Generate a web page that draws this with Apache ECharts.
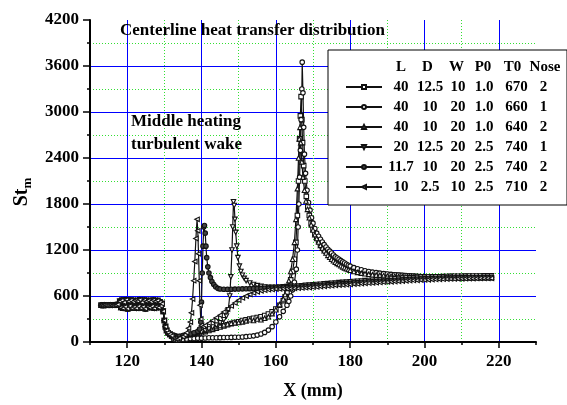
<!DOCTYPE html>
<html>
<head>
<meta charset="utf-8">
<script src="https://cdn.jsdelivr.net/npm/echarts@6/dist/echarts.min.js"></script>
<style>html,body{margin:0;padding:0;background:#fff}#main{width:567px;height:405px}</style>
</head>
<body>
<div id="main"></div>
<script>
// x ticks / labels
const xMajorTicks = [120, 140, 160, 180, 200, 220];

// legend table
const legendHeader = ['L', 'D', 'W', 'P0', 'T0', 'Nose'];
const legendRows = [
    ['40', '12.5', '10', '1.0', '670', '2'],
    ['40', '10', '20', '1.0', '660', '1'],
    ['40', '10', '20', '1.0', '640', '2'],
    ['20', '12.5', '20', '2.5', '740', '1'],
    ['11.7', '10', '20', '2.5', '740', '2'],
    ['10', '2.5', '10', '2.5', '710', '2']
];

// upstream part, same for every run (x mm, St)
const upstream = [
    [113.0, 480], [113.5, 478], [114.0, 482], [114.5, 479], [115.0, 481], [115.5, 483], [116.0, 480], [116.5, 484],
    [117.0, 482], [117.5, 490], [118.0, 530], [118.3, 450], [118.6, 545], [118.9, 440], [119.2, 520], [119.5, 460],
    [119.8, 550], [120.1, 435], [120.4, 530], [120.7, 470], [121.0, 545], [121.3, 445], [121.6, 525], [121.9, 455],
    [122.2, 540], [122.5, 440], [122.8, 535], [123.1, 465], [123.4, 550], [123.7, 445], [124.0, 520], [124.3, 460],
    [124.6, 545], [124.9, 435], [125.2, 530], [125.5, 455], [125.8, 540], [126.1, 450], [126.4, 525], [126.7, 465],
    [127.0, 545], [127.3, 440], [127.6, 530], [127.9, 460], [128.2, 540], [128.5, 450], [128.8, 520], [129.1, 470],
    [129.4, 500], [129.7, 400], [130.0, 280], [130.3, 200], [130.6, 150], [131.0, 120], [131.5, 100], [132.0, 80]
];

// L=40 D=12.5
const sq40 = [
    [132.5, 60], [133, 50], [133.5, 45], [134, 55], [134.5, 60], [135, 70], [136, 80], [137, 90], [138, 100], [139, 110],
    [140, 120], [141, 135], [142, 150], [143, 165], [144, 180], [145, 195], [146, 210], [147, 225], [148, 240], [149, 255],
    [150, 265], [151, 280], [152, 290], [153, 300], [154, 310], [155, 320], [156, 330], [157, 345], [158, 365], [159, 395],
    [160, 430], [161, 480], [162, 540], [162.5, 590], [163, 650], [163.5, 720], [164, 810], [164.5, 920], [165, 1080],
    [165.4, 1300], [165.8, 1650], [166.1, 2100], [166.4, 2650], [166.6, 2950], [166.8, 3200], [167.0, 2900], [167.2, 2600],
    [167.5, 2300], [167.8, 2100], [168.2, 1900], [168.6, 1760], [169, 1650], [169.5, 1550], [170, 1470], [170.5, 1410],
    [171, 1360], [171.5, 1320], [172, 1280], [172.5, 1245], [173, 1210], [173.5, 1185], [174, 1160], [174.5, 1135],
    [175, 1110], [175.5, 1090], [176, 1070], [176.5, 1055], [177, 1040], [177.5, 1025], [178, 1010], [178.5, 997],
    [179, 985], [179.5, 975], [180, 965], [181, 950], [182, 935], [183, 925], [184, 915], [185, 907], [186, 900],
    [187, 895], [188, 890], [189, 885], [190, 880], [191, 876], [192, 872], [193, 869], [194, 866], [195, 863], [196, 860],
    [197, 857], [198, 855], [199, 852], [200, 850], [201, 849], [202, 848], [203, 848], [204, 847], [205, 846], [206, 845],
    [207, 844], [208, 843], [209, 842], [210, 841], [211, 840], [212, 840], [213, 840], [214, 841], [215, 840], [216, 839],
    [217, 838], [218, 838]
];

// L=40 D=10 W=20 T0=660
const circ40 = [
    [132.5, 40], [133, 30], [133.5, 25], [134, 30], [135, 35], [136, 40], [137, 45], [138, 45], [139, 50], [140, 50],
    [141, 52], [142, 55], [143, 55], [144, 55], [145, 57], [146, 58], [147, 59], [148, 60], [149, 61], [150, 62],
    [151, 65], [152, 70], [153, 75], [154, 80], [155, 90], [156, 105], [157, 125], [158, 155], [159, 200], [160, 260],
    [161, 330], [162, 400], [163, 480], [163.5, 530], [164, 600], [164.5, 680], [165, 780], [165.5, 950], [165.8, 1200],
    [166.0, 1500], [166.2, 1800], [166.4, 2150], [166.6, 2500], [166.8, 2900], [167.0, 3300], [167.1, 3650], [167.3, 3250],
    [167.5, 2800], [167.7, 2450], [168.0, 2200], [168.4, 1980], [168.8, 1820], [169.2, 1720], [169.6, 1620], [170, 1550],
    [170.5, 1480], [171, 1420], [171.5, 1380], [172, 1340], [172.5, 1305], [173, 1270], [173.5, 1240], [174, 1210],
    [174.5, 1185], [175, 1160], [175.5, 1135], [176, 1110], [176.5, 1095], [177, 1080], [177.5, 1062], [178, 1045],
    [178.5, 1030], [179, 1015], [179.5, 1002], [180, 990], [181, 970], [182, 955], [183, 942], [184, 930], [185, 920],
    [186, 912], [187, 905], [188, 898], [189, 892], [190, 886], [191, 882], [192, 878], [193, 874], [194, 870], [195, 867],
    [196, 864], [197, 861], [198, 858], [199, 855], [200, 853], [201, 852], [202, 851], [203, 850], [204, 849], [205, 848],
    [206, 847], [207, 846], [208, 846], [209, 845], [210, 844], [211, 844], [212, 843], [213, 843], [214, 842], [215, 842],
    [216, 842], [217, 842], [218, 842]
];

// L=40 D=10 W=20 T0=640
const tri40 = [
    [132.5, 80], [133, 70], [133.5, 65], [134, 70], [135, 80], [136, 90], [137, 100], [138, 115], [139, 125], [140, 140],
    [141, 155], [142, 170], [143, 185], [144, 200], [145, 215], [146, 225], [147, 235], [148, 245], [149, 250], [150, 255],
    [151, 262], [152, 275], [153, 290], [154, 280], [155, 300], [156, 290], [157, 310], [158, 330], [159, 370], [160, 420],
    [161, 490], [162, 560], [162.5, 620], [163, 700], [163.5, 800], [164, 920], [164.5, 1080], [165, 1300], [165.4, 1600],
    [165.8, 2000], [166.1, 2400], [166.3, 2650], [166.5, 2800], [166.7, 2600], [167, 2350], [167.3, 2150], [167.7, 1980],
    [168.1, 1840], [168.5, 1730], [169, 1620], [169.5, 1530], [170, 1460], [170.5, 1400], [171, 1350], [171.5, 1305],
    [172, 1260], [172.5, 1225], [173, 1190], [173.5, 1160], [174, 1130], [174.5, 1105], [175, 1080], [175.5, 1060],
    [176, 1040], [176.5, 1025], [177, 1010], [177.5, 995], [178, 980], [178.5, 967], [179, 955], [179.5, 945], [180, 935],
    [181, 920], [182, 908], [183, 898], [184, 890], [185, 884], [186, 878], [187, 874], [188, 870], [189, 866], [190, 862],
    [191, 859], [192, 857], [193, 855], [194, 853], [195, 851], [196, 850], [197, 849], [198, 848], [199, 847], [200, 846],
    [201, 846], [202, 845], [203, 845], [204, 844], [205, 844], [206, 843], [207, 843], [208, 842], [209, 842], [210, 842],
    [211, 841], [212, 841], [213, 842], [214, 842], [215, 843], [216, 844], [217, 844], [218, 845]
];

// L=20
const dtri20 = [
    [132.5, 70], [133, 60], [133.5, 55], [134, 60], [135, 70], [136, 85], [137, 95], [138, 105], [139, 115], [140, 130],
    [141, 150], [142, 170], [143, 195], [144, 220], [145, 250], [146, 290], [146.7, 340], [147.2, 420], [147.6, 600],
    [147.9, 850], [148.2, 1200], [148.4, 1500], [148.6, 1830], [148.8, 1780], [149.0, 1600], [149.2, 1430], [149.5, 1250],
    [149.8, 1100], [150.2, 990], [150.6, 920], [151, 870], [151.5, 830], [152, 800], [153, 770], [154, 750], [155, 735],
    [156, 725], [157, 718], [158, 712], [159, 713], [160, 715], [161, 717], [162, 720], [163, 722], [164, 725], [165, 728],
    [166, 731], [167, 734], [168, 738], [169, 742], [170, 746], [171, 750], [172, 754], [173, 758], [174, 762], [175, 766],
    [176, 770], [177, 774], [178, 778], [179, 781], [180, 785], [181, 789], [182, 792], [183, 796], [184, 800], [185, 803],
    [186, 806], [187, 810], [188, 813], [189, 816], [190, 819], [191, 822], [192, 825], [193, 828], [194, 831], [195, 834],
    [196, 837], [197, 839], [198, 842], [199, 844], [200, 846], [201, 848], [202, 850], [203, 851], [204, 852], [205, 853],
    [206, 855], [207, 856], [208, 857], [209, 858], [210, 858], [211, 859], [212, 860], [213, 860], [214, 861], [215, 861],
    [216, 862], [217, 862], [218, 862]
];

// L=11.7
const dot117 = [
    [132.5, 90], [133, 80], [133.5, 70], [134, 75], [135, 85], [136, 95], [137, 105], [138, 120], [139, 140], [139.5, 170],
    [139.8, 260], [140.0, 520], [140.2, 900], [140.4, 1250], [140.6, 1500], [140.8, 1520], [141.0, 1420], [141.2, 1250],
    [141.4, 1100], [141.7, 980], [142, 900], [142.4, 840], [142.8, 790], [143.3, 750], [143.8, 720], [144.4, 700],
    [145, 692], [146, 688], [147, 686], [148, 688], [149, 690], [150, 692], [151, 693], [152, 695], [153, 696], [154, 698],
    [155, 699], [156, 700], [157, 702], [158, 703], [159, 704], [160, 706], [161, 708], [162, 710], [163, 712], [164, 714],
    [165, 716], [166, 718], [167, 721], [168, 724], [169, 728], [170, 732], [171, 736], [172, 740], [173, 744], [174, 748],
    [175, 752], [176, 756], [177, 759], [178, 762], [179, 765], [180, 768], [181, 772], [182, 775], [183, 779], [184, 782],
    [185, 785], [186, 788], [187, 791], [188, 794], [189, 797], [190, 800], [191, 803], [192, 806], [193, 809], [194, 812],
    [195, 815], [196, 818], [197, 820], [198, 822], [199, 825], [200, 827], [201, 829], [202, 830], [203, 832], [204, 833],
    [205, 835], [206, 836], [207, 837], [208, 838], [209, 839], [210, 840], [211, 840], [212, 841], [213, 841], [214, 842],
    [215, 842], [216, 843], [217, 843], [218, 844]
];

// L=10
const ltri10 = [
    [132.5, 50], [133, 45], [133.5, 40], [134, 50], [135, 70], [135.5, 90], [136, 120], [136.5, 180], [137, 260],
    [137.3, 380], [137.6, 560], [137.9, 800], [138.2, 1050], [138.5, 1350], [138.8, 1600], [139.0, 1450], [139.2, 1150],
    [139.4, 800], [139.6, 480], [139.8, 300], [140, 220], [140.5, 200], [141, 215], [142, 245], [143, 280], [144, 315],
    [145, 350], [146, 390], [147, 430], [148, 470], [149, 510], [150, 545], [151, 575], [152, 600], [153, 620], [154, 640],
    [155, 655], [156, 668], [157, 676], [158, 682], [159, 686], [160, 690], [161, 692], [162, 694], [163, 696], [164, 698],
    [165, 700], [166, 702], [167, 705], [168, 708], [169, 711], [170, 715], [171, 719], [172, 723], [173, 727], [174, 731],
    [175, 735], [176, 739], [177, 742], [178, 745], [179, 748], [180, 751], [181, 755], [182, 758], [183, 762], [184, 765],
    [185, 768], [186, 771], [187, 774], [188, 777], [189, 780], [190, 783], [191, 786], [192, 789], [193, 792], [194, 795],
    [195, 798], [196, 801], [197, 803], [198, 805], [199, 808], [200, 810], [201, 812], [202, 814], [203, 816], [204, 818],
    [205, 820], [206, 821], [207, 822], [208, 823], [209, 824], [210, 825], [211, 826], [212, 827], [213, 828], [214, 829],
    [215, 830], [216, 830], [217, 831], [218, 831]
];

const runs = [sq40, circ40, tri40, dtri20, dot117, ltri10];
const symbols = ['rect', 'circle', 'triangle', 'triangle', 'circle', 'triangle'];
const rotates = [0, 0, 0, 180, 0, 90];

const serif = '"Liberation Serif", "Times New Roman", serif';
const names = legendRows.map(r => r.join(' '));
const green = '#33e033';

const mychart = echarts.init(document.getElementById('main'));

const series = runs.map((run, i) => ({
    name: names[i],
    type: 'line',
    xAxisIndex: 0,
    data: upstream.concat(run),
    symbol: symbols[i],
    symbolRotate: rotates[i],
    symbolSize: 4.5,
    showAllSymbol: true,
    lineStyle: {color: '#111', width: 1.2},
    itemStyle: {color: i === 4 ? '#444' : '#fff', borderColor: '#111', borderWidth: 1.1},
    emphasis: {disabled: true}
}));

const option = {
    animation: false,
    backgroundColor: '#fff',
    grid: {left: 90, right: 31, top: 20, bottom: 59},
    xAxis: [
        {   // visible axis, labels, major ticks
            type: 'value', min: 110, max: 230, position: 'bottom',
            axisLine: {show: true, lineStyle: {color: '#000', width: 2}},
            axisTick: {show: true, customValues: xMajorTicks, length: 6, lineStyle: {color: '#000', width: 1.5}},
            axisLabel: {customValues: xMajorTicks, margin: 11, color: '#000', fontSize: 17, fontWeight: 'bold', fontFamily: serif},
            splitLine: {show: false},
            name: 'X (mm)', nameLocation: 'middle', nameGap: 40,
            nameTextStyle: {color: '#000', fontSize: 18, fontWeight: 'bold', fontFamily: serif}
        },
        {   // blue grid at 20s + minor ticks
            type: 'value', min: 110, max: 230, interval: 10, position: 'bottom',
            axisLine: {show: false},
            axisTick: {show: true, length: 3, lineStyle: {color: '#000', width: 1.5}},
            axisLabel: {show: false},
            splitLine: {show: true, showMaxLine: false, lineStyle: {color: ['rgba(0,0,0,0)', '#0000ff'], width: 1}}
        },
        {   // green dotted grid at odd tens
            type: 'value', min: 110, max: 230, interval: 10, position: 'bottom',
            axisLine: {show: false},
            axisTick: {show: false},
            axisLabel: {show: false},
            splitLine: {show: true, showMaxLine: false, lineStyle: {color: [green, 'rgba(0,0,0,0)'], width: 1, type: [1, 2]}}
        }
    ],
    yAxis: {
        type: 'value', min: 0, max: 4200, interval: 600,
        axisLine: {show: true, lineStyle: {color: '#000', width: 2}},
        axisTick: {show: true, length: 7, lineStyle: {color: '#000', width: 1.5}},
        minorTick: {show: true, splitNumber: 2, length: 3, lineStyle: {color: '#000', width: 1.5}},
        axisLabel: {
            margin: 11, color: '#000', fontSize: 17, fontWeight: 'bold', fontFamily: serif,
            formatter: function (v) { return String(v); }
        },
        splitLine: {show: true, showMaxLine: false, lineStyle: {color: '#0000ff', width: 1}},
        minorSplitLine: {show: true, lineStyle: {color: green, width: 1, type: [1, 2]}},
        name: '{s|St}{m|m}', nameLocation: 'middle', nameGap: 48,
        nameTextStyle: {
            color: '#000',
            rich: {
                s: {fontSize: 20, fontWeight: 'bold', fontFamily: serif, lineHeight: 24, color: '#000'},
                m: {fontSize: 13, fontWeight: 'bold', fontFamily: serif, lineHeight: 13, padding: [11, 22, 0, 0], color: '#000'}
            }
        }
    },
    legend: {
        left: 328, top: 50, orient: 'vertical',
        padding: [27, 16, 8, 17],
        itemWidth: 36, itemHeight: 5, itemGap: 0,
        selectedMode: false,
        backgroundColor: '#fff', borderColor: '#000', borderWidth: 1,
        data: names,
        formatter: function (name) {
            const r = legendRows[names.indexOf(name)];
            return '{a|' + r[0] + '}{b|' + r[1] + '}{c|' + r[2] + '}{d|' + r[3] + '}{e|' + r[4] + '}{f|' + r[5] + '}';
        },
        textStyle: {
            color: '#000', fontSize: 15, fontWeight: 'bold', fontFamily: serif, lineHeight: 20,
            rich: {
                a: {width: 28, align: 'center', fontSize: 15, fontWeight: 'bold', fontFamily: serif, lineHeight: 20},
                b: {width: 30, align: 'center', fontSize: 15, fontWeight: 'bold', fontFamily: serif, lineHeight: 20},
                c: {width: 26, align: 'center', fontSize: 15, fontWeight: 'bold', fontFamily: serif, lineHeight: 20},
                d: {width: 26, align: 'center', fontSize: 15, fontWeight: 'bold', fontFamily: serif, lineHeight: 20},
                e: {width: 39, align: 'center', fontSize: 15, fontWeight: 'bold', fontFamily: serif, lineHeight: 20},
                f: {width: 15, align: 'center', fontSize: 15, fontWeight: 'bold', fontFamily: serif, lineHeight: 20}
            }
        }
    },
    graphic: [
        {type: 'text', x: 120, y: 31, z: 100,
            style: {text: 'Centerline heat transfer distribution', font: 'bold 17px ' + serif, fill: '#000',
                textVerticalAlign: 'middle', verticalAlign: 'middle'}},
        {type: 'text', x: 131, y: 110, z: 100,
            style: {text: 'Middle heating\nturbulent wake', font: 'bold 17px ' + serif, fill: '#000', lineHeight: 23,
                textVerticalAlign: 'top', verticalAlign: 'top'}}
    ].concat(legendHeader.map((t, i) => ({
        type: 'text', x: [401, 427.5, 456.5, 483, 512.5, 545][i], y: 67, z: 100,
        style: {text: t, font: 'bold 15px ' + serif, fill: '#000', textAlign: 'center', align: 'center',
            textVerticalAlign: 'middle', verticalAlign: 'middle'}
    }))),
    series: series
};

mychart.setOption(option);
</script>
</body>
</html>
